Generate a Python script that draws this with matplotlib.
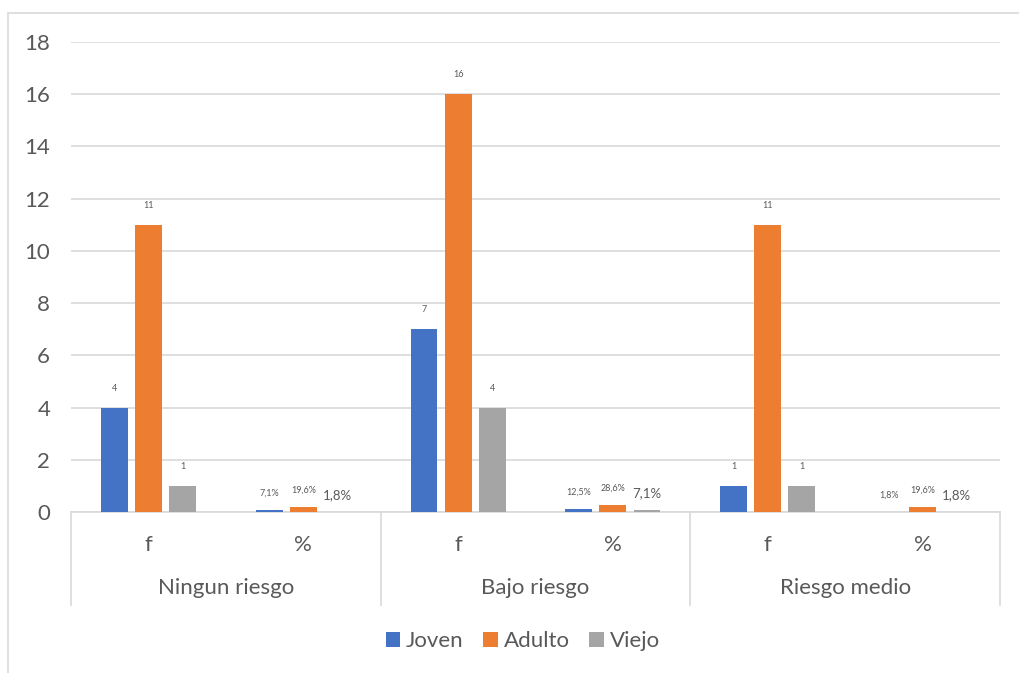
import matplotlib.pyplot as plt
from matplotlib.patches import Rectangle
import numpy as np

plt.rcParams['font.family'] = ['Lato', 'DejaVu Sans']

grupos = ['Ningun riesgo', 'Bajo riesgo', 'Riesgo medio']
subcats = ['f', '%']
series = ['Joven', 'Adulto', 'Viejo']
colores = ['#4472c4', '#ed7d31', '#a5a5a5']

# valores por serie: (f, %) para cada grupo
joven = [4, 0.071, 7, 0.125, 1, 0.018]
adulto = [11, 0.196, 16, 0.286, 11, 0.196]
viejo = [1, 0.018, 4, 0.071, 1, 0.018]
etq_joven = ['4', '7,1%', '7', '12,5%', '1', '1,8%']
etq_adulto = ['11', '19,6%', '16', '28,6%', '11', '19,6%']
etq_viejo = ['1', '1,8%', '4', '7,1%', '1', '1,8%']

gris = '#595959'
linea = '#d9d9d9'

fig = plt.figure(figsize=(10.19, 6.73), dpi=100)
ax = fig.add_axes([71/1019, 1-512/673, 929/1019, 470/673])

# marco del grafico
fig.patches.append(Rectangle((8/1019, -0.05), 1.05, 1-13/673+0.05, transform=fig.transFigure,
                             fill=False, edgecolor=linea, lw=1.2))

x = np.arange(6) + 0.5
ancho = 0.174
sep = 0.22
datos = [joven, adulto, viejo]
etqs = [etq_joven, etq_adulto, etq_viejo]
for k in range(3):
    xs = x + (k-1)*sep
    ax.bar(xs, datos[k], ancho, color=colores[k], label=series[k], zorder=3)
    for i in range(6):
        grande = (k == 2 and i % 2 == 1)
        ax.annotate(etqs[k][i], (xs[i], datos[k][i]), xytext=(0, 12 if i % 2 else 14),
                    textcoords='offset points', ha='center', va='center',
                    fontsize=9.5 if grande else 6.5, color=gris)

ax.set_xlim(0, 6)
ax.set_ylim(0, 18)
ax.set_yticks(range(0, 19, 2))
ax.tick_params(axis='y', length=0, labelsize=16, labelcolor=gris, pad=15)
ax.set_xticks([])
ax.grid(axis='y', color=linea, lw=1.2, zorder=0)
for s in ['top', 'right', 'left']:
    ax.spines[s].set_visible(False)
ax.spines['bottom'].set_color(linea)
ax.spines['bottom'].set_linewidth(1.2)

# eje de categorias en dos niveles
for g in range(4):
    ax.plot([2*g, 2*g], [0, -0.198], transform=ax.get_xaxis_transform(),
            color=linea, lw=1.2, clip_on=False)
for i in range(6):
    ax.text(x[i], -0.07, subcats[i % 2], transform=ax.get_xaxis_transform(),
            ha='center', va='center', fontsize=16, color=gris)
for g in range(3):
    ax.text(2*g+1, -0.162, grupos[g], transform=ax.get_xaxis_transform(),
            ha='center', va='center', fontsize=16, color=gris)

fig.legend(loc='center', bbox_to_anchor=(0.513, 1-641/673), ncol=3, frameon=False,
           fontsize=16, labelcolor=gris, handlelength=0.65, handleheight=0.65,
           handletextpad=0.25, columnspacing=0.9)

fig.savefig('out.png', dpi=100)
